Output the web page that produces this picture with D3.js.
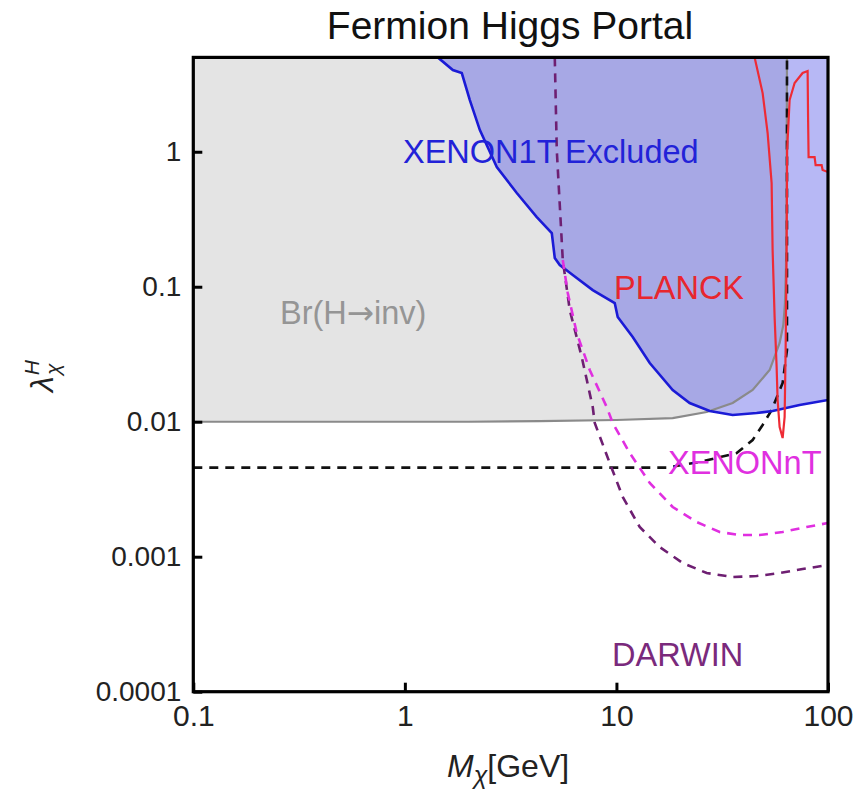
<!DOCTYPE html>
<html>
<head>
<meta charset="utf-8">
<script src="https://cdn.jsdelivr.net/npm/d3@7"></script>
<style>
  html, body { margin: 0; padding: 0; background: #fff; }
  svg { display: block; font-family: "Liberation Sans", Arial, sans-serif; }
</style>
</head>
<body>
<svg id="chart" width="858" height="790"></svg>
<script>
// Axis ticks
const xTicks = [0.1, 1, 10, 100];
const xTickLabels = ["0.1", "1", "10", "100"];
const yTicks = [1e-4, 1e-3, 1e-2, 0.1, 1];
const yTickLabels = ["0.0001", "0.001", "0.01", "0.1", "1"];

// Br(H→inv) bound: [M_chi (GeV), lambda]
const brInvLine = [
  [0.1, 0.01], [2, 0.01], [4.34, 0.0101], [10, 0.0103], [18.45, 0.01065],
  [26.71, 0.0118], [35.43, 0.01376], [44.04, 0.01717], [52.98, 0.02415],
  [59.07, 0.0383], [61.5, 0.052], [62.6, 0.075], [63.3, 0.14], [63.7, 0.35], [64.0, 5]
];

// XENON1T exclusion boundary
const xenon1t = [
  [1.432, 5], [1.686, 4.03], [1.858, 3.83], [2.028, 2.415], [2.262, 1.448],
  [2.72, 0.77], [3.381, 0.4946], [4.203, 0.3284], [4.948, 0.2499], [5.112, 0.1632],
  [5.398, 0.1448], [6.218, 0.1221], [7.727, 0.0945], [9.817, 0.0757], [10.14, 0.0597],
  [11.94, 0.0424], [14.37, 0.0272], [18.45, 0.01717], [22.19, 0.01376], [27.59, 0.012],
  [35.43, 0.01121], [45.99, 0.0116], [54.73, 0.012], [73.4, 0.01329], [100, 0.01448]
];

// Invisible-width projection (black dashed)
const invProjection = [
  [0.1, 0.00457], [17.28, 0.00457], [24.75, 0.00503], [37.01, 0.00586],
  [44.04, 0.00732], [49.1, 0.00945], [54.14, 0.0122], [61.03, 0.01935],
  [64.0, 0.034], [64.0, 5]
];

// PLANCK relic density
const planck = [
  [45.0, 5], [49.1, 2.72], [51.84, 1.375], [54.14, 0.586], [54.73, 0.187],
  [55.93, 0.0597], [57.17, 0.0254], [57.79, 0.01448], [59.07, 0.00913], [61.03, 0.00757],
  [62.37, 0.01083], [63.06, 0.034], [63.74, 0.187], [64.1, 1.03], [65.85, 2.415],
  [69.53, 3.228], [75.86, 3.83], [80.1, 3.96], [80.5, 1.807], [80.96, 0.913],
  [86.44, 0.913], [87.4, 0.797], [93.3, 0.797], [94.3, 0.732], [100, 0.707]
];

// XENONnT projection
const xenonNT = [
  [5.577, 0.1577], [5.888, 0.0898], [6.494, 0.0454], [7.478, 0.02415], [8.998, 0.01285],
  [9.605, 0.00978], [11.56, 0.00586], [14.37, 0.00352], [18.45, 0.002335], [23.95, 0.001807],
  [30.76, 0.001524], [38.22, 0.001448], [47.52, 0.001448], [61.03, 0.001524],
  [79.2, 0.00166], [100, 0.001777]
];

// DARWIN projection
const darwin = [
  [5.112, 5], [5.224, 1.03], [5.577, 0.1577], [6.017, 0.0672], [6.857, 0.0301],
  [7.727, 0.01285], [7.898, 0.00978], [9.298, 0.00494], [10.71, 0.00277], [12.88, 0.00166],
  [16.01, 0.00118], [20.57, 0.000898], [26.71, 0.000757], [35.43, 0.000707],
  [45.99, 0.000719], [59.07, 0.000757], [75.86, 0.000811], [100, 0.000868]
];

const svg = d3.select("#chart");
const plotL = 193.3, plotR = 828, plotT = 57.4, plotB = 691.7;
const yMin = 1e-4, yMax = 5;

const x = d3.scaleLog().domain([0.1, 100]).range([plotL, plotR]);
const y = d3.scaleLog().domain([yMin, yMax]).range([plotB, plotT]);

svg.append("defs").append("clipPath").attr("id", "plotClip")
  .append("rect").attr("x", plotL).attr("y", plotT)
  .attr("width", plotR - plotL).attr("height", plotB - plotT);

const plot = svg.append("g").attr("clip-path", "url(#plotClip)");

const line = d3.line().x(d => x(d[0])).y(d => y(d[1]));

// Region excluded by Br(H→inv)
plot.append("path")
  .attr("d", line([...brInvLine, [0.1, yMax]]) + "Z")
  .attr("fill", "#e4e4e4");

// XENON1T excluded region
plot.append("path")
  .attr("d", line([...xenon1t, [100, yMax]]) + "Z")
  .attr("fill", "rgba(84,86,232,0.42)");

// Boundary curves
plot.append("path").attr("d", line(brInvLine))
  .attr("fill", "none").attr("stroke", "#8a8a8a").attr("stroke-width", 2.2);

plot.append("path").attr("d", line(invProjection))
  .attr("fill", "none").attr("stroke", "#111").attr("stroke-width", 2.6)
  .attr("stroke-dasharray", "9,7");

plot.append("path").attr("d", line(xenon1t))
  .attr("fill", "none").attr("stroke", "#1b1bd6").attr("stroke-width", 2.6);

plot.append("path").attr("d", line(darwin))
  .attr("fill", "none").attr("stroke", "#6e1f72").attr("stroke-width", 2.6)
  .attr("stroke-dasharray", "9,7");

plot.append("path").attr("d", line(xenonNT))
  .attr("fill", "none").attr("stroke", "#e02fe0").attr("stroke-width", 2.6)
  .attr("stroke-dasharray", "9,7");

plot.append("path").attr("d", line(planck))
  .attr("fill", "none").attr("stroke", "#ee2b35").attr("stroke-width", 2.2);

// Region labels
const labelFont = 32.5;
function label(parts, px, py, color) {
  const t = svg.append("text").attr("x", px).attr("y", py)
    .attr("fill", color).attr("font-size", labelFont);
  parts.forEach(p => {
    const s = t.append("tspan").text(p.t);
    if (p.f) s.attr("font-family", p.f);
  });
}
label([{t: "XENON1T Excluded"}], 403, 163, "#2222d8");
label([{t: "PLANCK"}], 614, 299, "#e8262e");
label([{t: "Br(H"}, {t: "\u2192", f: "DejaVu Sans"}, {t: "inv)"}], 280, 324, "#959595");
label([{t: "XENONnT"}], 668, 474, "#e030e0");
label([{t: "DARWIN"}], 612, 666, "#7a2a7c");

// Axes with inward ticks
const xAxis = d3.axisBottom(x).tickValues(xTicks)
  .tickFormat((d, i) => xTickLabels[i]).tickSizeInner(-9).tickSizeOuter(0).tickPadding(13);
const yAxis = d3.axisLeft(y).tickValues(yTicks)
  .tickFormat((d, i) => yTickLabels[i]).tickSizeInner(-9).tickSizeOuter(0).tickPadding(12);

const gx = svg.append("g").attr("transform", `translate(0,${plotB})`).call(xAxis);
const gy = svg.append("g").attr("transform", `translate(${plotL},0)`).call(yAxis);
[gx, gy].forEach(g => {
  g.select(".domain").remove();
  g.selectAll(".tick line").attr("stroke", "#000").attr("stroke-width", 3);
  g.selectAll(".tick text").attr("fill", "#222")
    .attr("font-family", "Liberation Sans, Arial, sans-serif");
});
gx.selectAll(".tick text").attr("font-size", 30).attr("dy", "0.71em");
gy.selectAll(".tick text").attr("font-size", 28);

// Plot frame
svg.append("rect").attr("x", plotL).attr("y", plotT)
  .attr("width", plotR - plotL).attr("height", plotB - plotT)
  .attr("fill", "none").attr("stroke", "#000").attr("stroke-width", 3.2);

// Title
svg.append("text").attr("x", 510).attr("y", 39).attr("text-anchor", "middle")
  .attr("font-size", 39).attr("fill", "#111").text("Fermion Higgs Portal");

// Axis titles
const xt = svg.append("text").attr("x", 447).attr("y", 777)
  .attr("font-size", 32).attr("fill", "#222");
xt.append("tspan").attr("font-style", "italic").text("M");
xt.append("tspan").attr("font-style", "italic").attr("font-size", 25).attr("dy", 7).text("\u03c7");
xt.append("tspan").attr("dy", -7).text("[GeV]");

const yt = svg.append("text").attr("transform", "translate(53,392) rotate(-90)")
  .attr("font-size", 32).attr("fill", "#222");
yt.append("tspan").attr("font-style", "italic").text("\u03bb");
yt.append("tspan").attr("font-style", "italic").attr("font-size", 21).attr("dy", -14).attr("dx", 1).text("H");
yt.append("tspan").attr("font-style", "italic").attr("font-size", 21).attr("dy", 21).attr("dx", -15).text("\u03c7");
</script>
</body>
</html>
